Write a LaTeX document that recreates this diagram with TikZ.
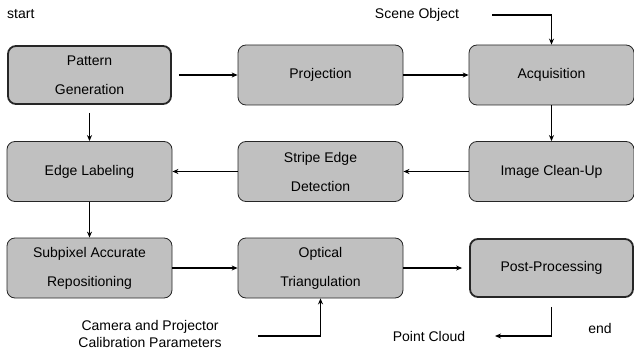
\documentclass[tikz,border=0pt]{standalone}
\usepackage{fontspec}
\setmainfont{Liberation Sans}
\usetikzlibrary{arrows.meta}
\definecolor{boxgray}{RGB}{192,192,192}
\begin{document}
\begin{tikzpicture}[x=1pt,y=-1pt,
  stepbox/.style={draw=black!85,line width=0.8pt,fill=boxgray,rounded corners=8pt,
    minimum width=165pt,minimum height=60pt,inner sep=0pt,align=center,
    font=\fontsize{14}{29}\selectfont},
  keybox/.style={stepbox,line width=1.8pt,minimum width=163pt,minimum height=58pt},
  lbl/.style={font=\fontsize{14}{17}\selectfont,align=center,inner sep=0pt},
  conn/.style={line width=1.4pt,-{Stealth[length=6pt,width=5pt]}}]
\useasboundingbox (0,0) rectangle (634,350);
\node[keybox] (pg) at (89.5,75) {Pattern\\Generation};
\node[stepbox] (proj) at (320.5,75) {Projection};
\node[stepbox] (acq) at (551.5,75) {Acquisition};
\node[stepbox] (el) at (89.5,171.5) {Edge Labeling};
\node[stepbox] (sed) at (320.5,171.5) {Stripe Edge\\Detection};
\node[stepbox] (icu) at (551.5,171.5) {Image Clean-Up};
\node[stepbox] (sub) at (89.5,268) {Subpixel Accurate\\Repositioning};
\node[stepbox] (opt) at (320.5,268) {Optical\\Triangulation};
\node[keybox] (post) at (551.5,268) {Post-Processing};
\node[lbl,anchor=west] (start) at (7,14) {start};
\node[lbl] (scene) at (417,15) {Scene Object};
\node[lbl] (cam) at (150,333.5) {Camera and Projector\\Calibration Parameters};
\node[lbl] (pc) at (429,336) {Point Cloud};
\node[lbl] (end) at (600,328) {end};
\coordinate (sc) at (492,15);
\coordinate (cc) at (258,336);
\coordinate (pcc) at (495,336);
\draw[conn,shorten <=7pt] (pg.east) -- (proj.west);
\draw[conn] (proj.east) -- (acq.west);
\draw[conn] (sc) -| (acq.north);
\draw[conn] (acq.south) -- (icu.north);
\draw[conn] (icu.west) -- (sed.east);
\draw[conn] (sed.west) -- (el.east);
\draw[conn,shorten <=8pt] (pg.south) -- (el.north);
\draw[conn] (el.south) -- (sub.north);
\draw[conn] (sub.east) -- (opt.west);
\draw[conn] (cc) -| (opt.south);
\draw[conn,shorten >=7pt] (opt.east) -- (post.west);
\draw[conn,shorten <=9pt] (post.south) |- (pcc);
\end{tikzpicture}
\end{document}
